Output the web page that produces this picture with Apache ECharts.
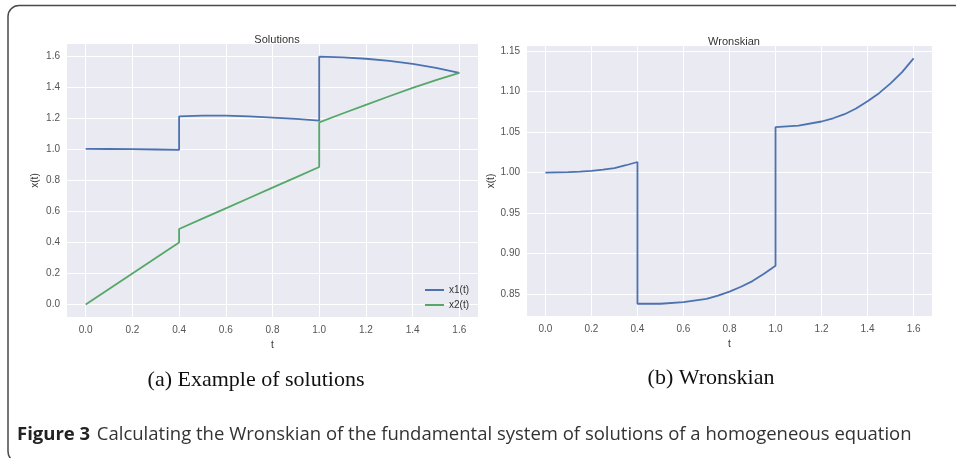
<!DOCTYPE html>
<html>
<head>
<meta charset="utf-8">
<script src="https://cdn.jsdelivr.net/npm/echarts@6/dist/echarts.min.js"></script>
<style>
  html, body { margin: 0; padding: 0; background: #fff; }
  #chart { width: 956px; height: 458px; }
</style>
</head>
<body>
<div id="chart"></div>
<script>
// t values (jumps repeat the same t)
const solT = [0, 0.1, 0.2, 0.3, 0.4, 0.4, 0.5, 0.6, 0.7, 0.8, 0.9, 1.0, 1.0, 1.1, 1.2, 1.3, 1.4, 1.5, 1.6]
const x1Vals = [1.004, 1.003, 1.002, 1.0, 0.997, 1.213, 1.218, 1.218, 1.214, 1.206, 1.197, 1.186, 1.598, 1.594, 1.585, 1.571, 1.552, 1.526, 1.494]
const x2Vals = [0, 0.1, 0.2, 0.3, 0.4, 0.487, 0.554, 0.620, 0.687, 0.754, 0.820, 0.887, 1.175, 1.232, 1.288, 1.343, 1.397, 1.447, 1.494]

const wT = [0, 0.1, 0.15, 0.2, 0.25, 0.3, 0.35, 0.4, 0.4, 0.5, 0.6, 0.7, 0.75, 0.8, 0.85, 0.9, 0.95, 1.0, 1.0, 1.1, 1.2, 1.25, 1.3, 1.35, 1.4, 1.45, 1.5, 1.55, 1.6]
const wVals = [1.000, 1.0004, 1.001, 1.002, 1.0035, 1.0055, 1.009, 1.013, 0.838, 0.838, 0.840, 0.844, 0.848, 0.853, 0.859, 0.866, 0.875, 0.885, 1.056, 1.058, 1.063, 1.067, 1.072, 1.079, 1.088, 1.098, 1.110, 1.124, 1.141]

const tTicks = [0, 0.2, 0.4, 0.6, 0.8, 1.0, 1.2, 1.4, 1.6]
const solTicks = [0, 0.2, 0.4, 0.6, 0.8, 1.0, 1.2, 1.4, 1.6]
const wTicks = [0.85, 0.90, 0.95, 1.00, 1.05, 1.10, 1.15]

const pairs = (xs, ys) => xs.map((x, i) => [x, ys[i]])

const labelStyle = { color: '#555', fontSize: 10, fontFamily: 'Liberation Sans' }
const nameStyle = { color: '#333', fontSize: 10, fontFamily: 'Liberation Sans' }

function xAxisFor(idx) {
  return {
    type: 'value', gridIndex: idx, min: -0.08, max: 1.68,
    name: 't', nameLocation: 'middle', nameGap: 23, nameTextStyle: nameStyle,
    axisLine: { show: false }, axisTick: { show: false, customValues: tTicks },
    axisLabel: Object.assign({ customValues: tTicks, margin: 8, formatter: v => v.toFixed(1) }, labelStyle),
    splitLine: { show: true, lineStyle: { color: '#fff', width: 1 } }
  }
}

function yAxisFor(idx, min, max, ticks, digits, gap) {
  return {
    type: 'value', gridIndex: idx, min: min, max: max,
    name: 'x(t)', nameLocation: 'middle', nameGap: gap, nameTextStyle: nameStyle,
    axisLine: { show: false }, axisTick: { show: false, customValues: ticks },
    axisLabel: Object.assign({ customValues: ticks, margin: 7, formatter: v => v.toFixed(digits) }, labelStyle),
    splitLine: { show: true, lineStyle: { color: '#fff', width: 1 } }
  }
}

const chart = echarts.init(document.getElementById('chart'))
chart.setOption({
  animation: false,
  backgroundColor: '#fff',
  title: [
    { text: 'Solutions', left: 272, top: 29, textAlign: 'center',
      textStyle: { fontSize: 11, fontWeight: 'normal', color: '#333', fontFamily: 'Liberation Sans' } },
    { text: 'Wronskian', left: 729, top: 31, textAlign: 'center',
      textStyle: { fontSize: 11, fontWeight: 'normal', color: '#333', fontFamily: 'Liberation Sans' } }
  ],
  grid: [
    { left: 67, top: 44, width: 411, height: 273, backgroundColor: '#EAEAF2', show: true, borderWidth: 0 },
    { left: 527, top: 46, width: 405, height: 270, backgroundColor: '#EAEAF2', show: true, borderWidth: 0 }
  ],
  xAxis: [xAxisFor(0), xAxisFor(1)],
  yAxis: [
    yAxisFor(0, -0.08, 1.68, solTicks, 1, 27),
    yAxisFor(1, 0.8229, 1.1562, wTicks, 2, 30)
  ],
  legend: {
    data: ['x1(t)', 'x2(t)'], orient: 'vertical', left: 425, top: 285, padding: 0,
    icon: 'rect', itemWidth: 19, itemHeight: 2, itemGap: 5,
    textStyle: { color: '#333', fontSize: 10, fontFamily: 'Liberation Sans' }
  },
  series: [
    { name: 'x1(t)', type: 'line', xAxisIndex: 0, yAxisIndex: 0, data: pairs(solT, x1Vals),
      showSymbol: false, lineStyle: { color: '#4C72B0', width: 1.8 }, itemStyle: { color: '#4C72B0' } },
    { name: 'x2(t)', type: 'line', xAxisIndex: 0, yAxisIndex: 0, data: pairs(solT, x2Vals),
      showSymbol: false, lineStyle: { color: '#55A868', width: 1.8 }, itemStyle: { color: '#55A868' } },
    { name: 'W', type: 'line', xAxisIndex: 1, yAxisIndex: 1, data: pairs(wT, wVals),
      showSymbol: false, lineStyle: { color: '#4C72B0', width: 1.8 }, itemStyle: { color: '#4C72B0' } }
  ],
  graphic: [
    { type: 'rect', shape: { x: 8, y: 5.5, width: 1000, height: 457, r: 11 }, silent: true,
      style: { fill: 'none', stroke: '#4a4a4a', lineWidth: 1.5 } },
    { type: 'text', x: 256, y: 380, style: { text: '(a) Example of solutions', font: '22px "Liberation Serif"',
      fill: '#111', textAlign: 'center', textVerticalAlign: 'middle' } },
    { type: 'text', x: 711, y: 378, style: { text: '(b) Wronskian', font: '22px "Liberation Serif"',
      fill: '#111', textAlign: 'center', textVerticalAlign: 'middle' } },
    { type: 'text', x: 17, y: 435, style: {
      text: '{b|Figure 3}  {n|Calculating the Wronskian of the fundamental system of solutions of a homogeneous equation}',
      textVerticalAlign: 'middle',
      rich: {
        b: { font: 'bold 18.5px "Open Sans"', fill: '#222' },
        n: { font: '18.5px "Open Sans"', fill: '#333' }
      } } }
  ]
})
</script>
</body>
</html>
